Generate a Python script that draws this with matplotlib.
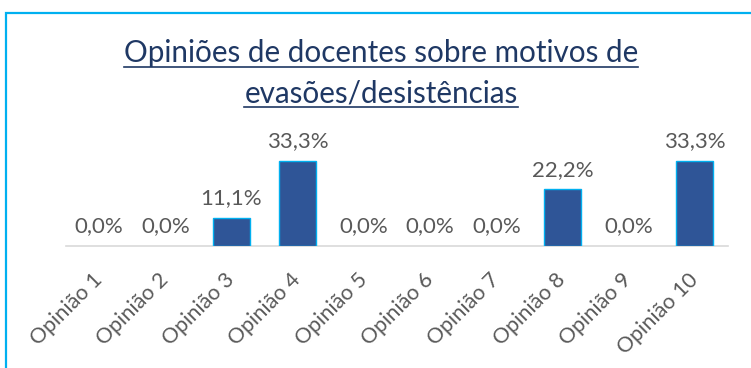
import matplotlib.pyplot as plt
from matplotlib.patches import Rectangle
from matplotlib.lines import Line2D

categorias = ['Opinião 1', 'Opinião 2', 'Opinião 3', 'Opinião 4', 'Opinião 5',
              'Opinião 6', 'Opinião 7', 'Opinião 8', 'Opinião 9', 'Opinião 10']
percentuais = [0.0, 0.0, 11.1, 33.3, 0.0, 0.0, 0.0, 22.2, 0.0, 33.3]
titulo = ['Opiniões de docentes sobre motivos de', 'evasões/desistências']

plt.rcParams['font.family'] = ['Lato', 'DejaVu Sans']

W, H = 751, 368
fig = plt.figure(figsize=(W / 100, H / 100), dpi=100)

# moldura azul do grafico
fig.patches.append(Rectangle((6 / W, -0.1), 1.2, (H - 12.5) / H + 0.1,
                             transform=fig.transFigure, fill=False,
                             edgecolor='#00B0F0', linewidth=1.6))

ax = fig.add_axes([66 / W, (H - 246) / H, (728 - 66) / W, 116 / H])
x = range(len(categorias))
bordas = ['#00B0F0' if v > 0 else 'none' for v in percentuais]
ax.bar(x, percentuais, width=0.56, color='#2F5597', edgecolor=bordas,
       linewidth=1.0, zorder=3)
ax.set_xlim(-0.5, len(categorias) - 0.5)
ax.set_ylim(0, 33.3 * 116 / 85)

for i, v in enumerate(percentuais):
    ax.annotate(f'{v:.1f}%'.replace('.', ','), (i, v), xytext=(0, 7),
                textcoords='offset points', ha='center', va='bottom',
                fontsize=16, color='#595959')

for s in ['top', 'right', 'left']:
    ax.spines[s].set_visible(False)
ax.spines['bottom'].set_color('#D9D9D9')
ax.spines['bottom'].set_linewidth(1.2)
ax.set_yticks([])
ax.set_xticks(list(x))
ax.set_xticklabels(categorias, rotation=45, ha='right', va='center',
                   rotation_mode='anchor', fontsize=15.5, color='#595959')
ax.tick_params(axis='x', length=0, pad=22)

# titulo em duas linhas, sublinhado
cor_titulo = '#1F3864'
textos = []
for linha, base in zip(titulo, [62, 102]):
    t = fig.text(381 / W, (H - base) / H, linha, ha='center', va='baseline',
                 fontsize=21.3, color=cor_titulo)
    textos.append((t, base))

fig.canvas.draw()
r = fig.canvas.get_renderer()
for t, base in textos:
    bb = t.get_window_extent(r)
    y = (H - base - 5) / H
    fig.lines.append(Line2D([bb.x0 / W, bb.x1 / W], [y, y],
                            transform=fig.transFigure, color=cor_titulo,
                            linewidth=1.2))

fig.savefig('out.png', dpi=100)
